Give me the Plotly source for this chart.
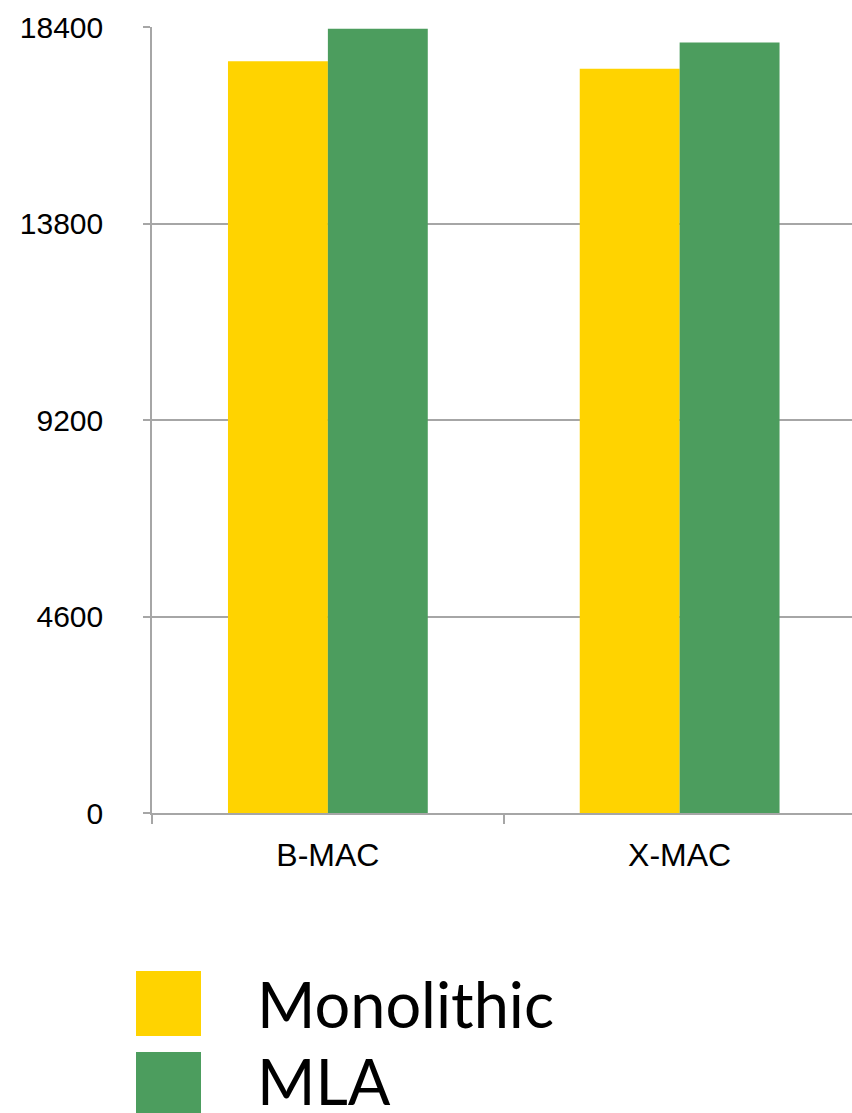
import plotly.graph_objects as go

# Chart data
categories = ["B-MAC", "X-MAC"]
series_names = ["Monolithic", "MLA"]
monolithic = [17600, 17420]
mla = [18360, 18040]
y_ticks = [0, 4600, 9200, 13800, 18400]

colors = {"Monolithic": "#FFD300", "MLA": "#4C9D5E"}
grid_color = "#A6A6A6"

W, H = 852, 1113
L, R, T, B = 152, 0, 27, 300
plot_w = W - L - R
plot_h = H - T - B


def px_x(x):
    return (x - L) / plot_w


def px_y(y):
    return (H - B - y) / plot_h


fig = go.Figure()
for name, vals in zip(series_names, [monolithic, mla]):
    fig.add_trace(go.Bar(
        name=name, x=categories, y=vals,
        marker=dict(color=colors[name], line=dict(width=0)),
    ))

fig.update_layout(
    width=W, height=H,
    margin=dict(l=L, r=R, t=T, b=B, pad=0),
    paper_bgcolor="white", plot_bgcolor="white",
    barmode="group", bargap=0.432, bargroupgap=0,
    showlegend=False,
    font=dict(family="Liberation Sans, Arial, sans-serif", color="black"),
    xaxis=dict(
        type="category", range=[-0.5, 1.49],
        showline=True, linecolor=grid_color, linewidth=2,
        ticks="outside", tickson="boundaries", ticklen=9,
        tickcolor=grid_color, tickwidth=1.5,
        showgrid=False, zeroline=False,
        tickfont=dict(size=32), ticklabelstandoff=13,
    ),
    yaxis=dict(
        range=[0, max(y_ticks)], tickvals=y_ticks,
        ticktext=[str(v) for v in y_ticks],
        showline=True, linecolor=grid_color, linewidth=1.5,
        ticks="outside", ticklen=7, tickcolor=grid_color, tickwidth=1.5,
        showgrid=True, gridcolor=grid_color, gridwidth=2,
        zeroline=False, tickfont=dict(size=30), ticklabelstandoff=34,
    ),
)

# Legend: large swatches with labels below the plot
legend_rows = [("Monolithic", 971, 1036, 1003), ("MLA", 1052, 1117, 1080)]
for name, y0, y1, ytext in legend_rows:
    fig.add_shape(
        type="rect", xref="paper", yref="paper",
        x0=px_x(136), x1=px_x(201), y0=px_y(y0), y1=px_y(y1),
        fillcolor=colors[name], line=dict(width=0),
    )
    fig.add_annotation(
        xref="paper", yref="paper", x=px_x(255), y=px_y(ytext),
        xanchor="left", yanchor="middle", showarrow=False,
        text=name, font=dict(family="Lato, sans-serif", size=63, color="black"),
    )

fig.write_html("out.html")
